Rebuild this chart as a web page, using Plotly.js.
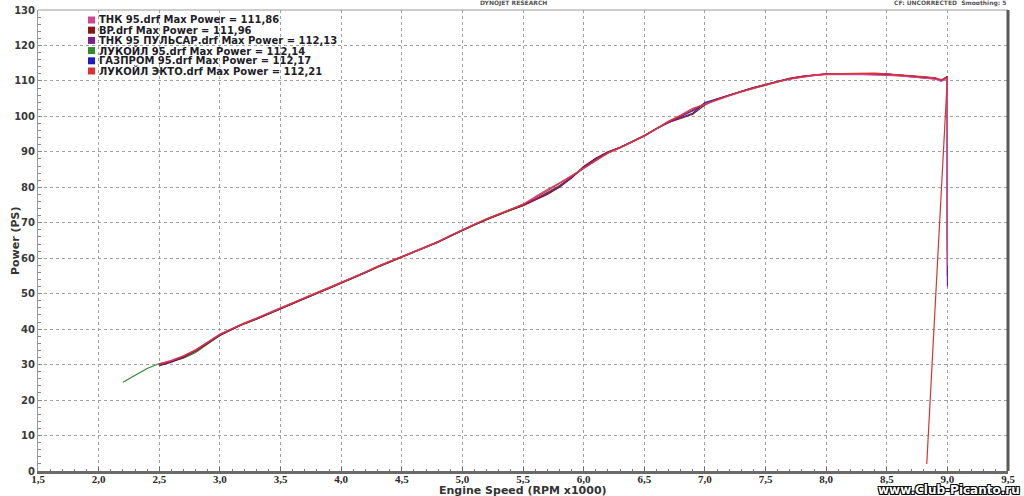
<!DOCTYPE html>
<html>
<head>
<meta charset="utf-8">
<script src="https://cdn.plot.ly/plotly-3.0.1.min.js"></script>
<style>html,body{margin:0;padding:0;background:#fff;}#chart{width:1024px;height:496px;}</style>
</head>
<body>
<div id="chart"></div>
<script>
// Engine speed (RPM x1000) – shared sample points
const rpm = [2.2,2.3,2.4,2.5,2.6,2.7,2.8,2.9,3.0,3.1,
  3.2,3.3,3.4,3.5,3.6,3.7,3.8,3.9,4.0,4.1,
  4.2,4.3,4.4,4.5,4.6,4.7,4.8,4.9,5.0,5.1,
  5.2,5.3,5.4,5.5,5.6,5.7,5.8,5.9,6.0,6.1,
  6.2,6.3,6.4,6.5,6.6,6.7,6.8,6.9,7.0,7.1,
  7.2,7.3,7.4,7.5,7.6,7.7,7.8,7.9,8.0,8.1,
  8.2,8.3,8.4,8.5,8.6,8.7,8.8,8.9,8.95,9.0];

// Power (PS) per run
const thk95 = [null,null,null,30.2,31.2,32.5,34.2,36.4,38.6,40.2,
  41.7,43.0,44.5,46.0,47.4,48.8,50.3,51.7,53.1,54.6,
  56.1,57.7,59.1,60.4,61.7,63.1,64.7,66.4,68.1,69.6,
  71.1,72.5,73.8,75.2,77.3,79.4,81.2,83.3,85.2,87.4,
  89.6,91.1,92.7,94.4,96.4,98.6,100.4,102.3,103.4,104.7,
  105.8,106.9,107.9,108.8,109.7,110.5,111.1,111.5,111.8,111.86,
  111.8,111.8,111.7,111.6,111.4,111.1,110.8,110.5,109.9,110.8];
const bp = [null,null,null,29.8,30.8,32.1,33.8,36.0,38.3,39.9,
  41.5,42.8,44.3,45.8,47.2,48.6,50.1,51.5,52.9,54.4,
  55.9,57.5,58.9,60.2,61.5,62.9,64.5,66.2,67.9,69.4,
  70.9,72.3,73.6,74.8,76.3,78.0,80.0,82.7,85.9,88.2,
  90.0,91.3,92.9,94.6,96.6,98.3,99.4,100.6,103.2,104.9,
  106.0,107.1,108.1,109.0,109.9,110.7,111.3,111.7,111.9,111.96,
  111.9,111.9,111.9,111.7,111.5,111.2,110.9,110.6,110.0,111.1];
const thkPulsar = [null,null,null,30.0,31.0,32.3,34.0,36.2,38.4,40.0,
  41.6,42.9,44.4,45.9,47.3,48.7,50.2,51.6,53.0,54.5,
  56.0,57.6,59.0,60.3,61.6,63.0,64.6,66.3,68.0,69.5,
  71.0,72.4,73.7,75.0,76.6,78.4,80.3,82.9,85.6,88.0,
  89.9,91.3,92.8,94.5,96.5,98.2,99.9,101.7,103.7,104.9,
  106.0,107.1,108.1,109.0,109.9,110.7,111.3,111.7,112.0,112.1,
  112.13,112.1,112.0,111.9,111.7,111.4,111.1,110.8,110.2,111.2];
const lukoil95 = [25.0,26.9,28.9,30.3,30.9,31.8,33.4,35.8,38.2,39.9,
  41.5,42.8,44.3,45.8,47.2,48.6,50.1,51.5,52.9,54.4,
  55.9,57.5,58.9,60.2,61.5,62.9,64.5,66.2,67.9,69.4,
  70.9,72.3,73.6,74.9,76.6,78.5,80.5,82.8,85.4,87.7,
  89.7,91.2,92.8,94.5,96.5,98.5,100.0,101.5,103.5,104.8,
  105.9,107.0,108.0,108.9,109.8,110.6,111.2,111.6,111.9,112.0,
  112.1,112.14,112.1,111.9,111.7,111.4,111.1,110.8,110.1,111.0];
const gazprom95 = [null,null,null,29.7,30.7,32.0,33.9,36.1,38.3,40.0,
  41.6,42.9,44.4,45.9,47.3,48.7,50.2,51.6,53.0,54.5,
  56.0,57.6,59.0,60.3,61.6,63.0,64.6,66.3,68.0,69.5,
  71.0,72.4,73.7,74.9,76.5,78.2,80.1,82.6,85.7,88.1,
  89.9,91.2,92.8,94.5,96.5,98.3,99.6,100.9,103.9,105.0,
  106.0,107.0,108.0,108.9,109.8,110.6,111.2,111.6,111.9,112.0,
  112.1,112.17,112.1,111.9,111.7,111.4,111.1,110.8,110.1,111.3];
const lukoilEkto = [null,null,null,30.1,31.1,32.4,34.1,36.3,38.5,40.1,
  41.7,43.0,44.5,46.0,47.4,48.8,50.3,51.7,53.1,54.6,
  56.1,57.7,59.1,60.4,61.7,63.1,64.7,66.4,68.1,69.6,
  71.1,72.5,73.8,75.1,77.0,79.0,80.9,83.1,85.3,87.6,
  89.7,91.2,92.8,94.5,96.6,98.6,100.2,102.0,103.5,104.8,
  105.9,107.0,108.0,108.9,109.8,110.6,111.2,111.7,112.0,112.1,
  112.2,112.21,112.2,112.0,111.8,111.5,111.2,110.9,110.3,111.0];

// End of each run (throttle release)
const tailRpm = [9.0, 9.0, 9.0, 9.0, 9.0, 8.83];
const tailPower = [58, 62, 52, 65, 55, 2];

const runNames = ["ТНК 95.drf","BP.drf","ТНК 95 ПУЛЬСАР.drf","ЛУКОЙЛ 95.drf","ГАЗПРОМ 95.drf","ЛУКОЙЛ ЭКТО.drf"];
const maxPower = ["111,86","111,96","112,13","112,14","112,17","112,21"];
const runColors = ["#d2468c","#8b1414","#7d1f8c","#2e8b2e","#1c1ccc","#dc3232"];
const runData = [thk95, bp, thkPulsar, lukoil95, gazprom95, lukoilEkto];

const drawOrder = [3,4,1,2,0,5];
const traces = drawOrder.map(i => ({
  type: 'scatter', mode: 'lines',
  x: rpm.concat([tailRpm[i]]),
  y: runData[i].concat([tailPower[i]]),
  line: {color: runColors[i], width: 1.2},
  connectgaps: false,
  showlegend: false,
  hoverinfo: 'skip'
}));

const pad = {l: 38, r: 16, t: 10, b: 25};
const plotH = 496 - pad.t - pad.b;
const annotations = [];
const shapes = [];
runNames.forEach((n, i) => {
  const py = 20 + 10.2 * i;        // pixel row of legend entry
  const yp = 1 - (py - pad.t) / plotH;
  annotations.push({
    xref: 'paper', yref: 'paper', x: (97 - pad.l) / (1024 - pad.l - pad.r), y: yp,
    xanchor: 'left', yanchor: 'middle', showarrow: false,
    text: '<b>' + n + ' Max Power = ' + maxPower[i] + '</b>',
    font: {family: 'DejaVu Sans', size: 10, color: '#1e1e2a'}
  });
  shapes.push({
    type: 'rect', xref: 'paper', yref: 'paper',
    xsizemode: 'pixel', ysizemode: 'pixel', xanchor: 0, yanchor: 1,
    x0: 88 - pad.l, x1: 95 - pad.l, y0: pad.t - (py + 3.5), y1: pad.t - (py - 3.5),
    fillcolor: runColors[i], line: {width: 0}
  });
});

annotations.push(
  {xref:'paper', yref:'paper', x:0.5, y:0, yanchor:'top', yshift:-11, showarrow:false,
   text:'<b>Engine Speed (RPM x1000)</b>', font:{family:'DejaVu Sans', size:11, color:'#333'}},
  {xref:'paper', yref:'paper', x:0, y:0.5, xshift:-31, textangle:-90, showarrow:false,
   text:'<b>Power (PS)</b>', font:{family:'DejaVu Sans', size:11, color:'#333'}},
  {xref:'paper', yref:'paper', x:0.49, y:1, yanchor:'bottom', yshift:1, showarrow:false,
   text:'<b>DYNOJET RESEARCH</b>', font:{family:'DejaVu Sans', size:6, color:'#555'}},
  {xref:'paper', yref:'paper', x:1, y:1, xanchor:'right', yanchor:'bottom', yshift:1, xshift:0, showarrow:false,
   text:'<b>CF: UNCORRECTED  Smoothing: 5</b>', font:{family:'DejaVu Sans', size:6, color:'#555'}},
  {xref:'paper', yref:'paper', x:1, y:0, xanchor:'right', yanchor:'top', xshift:14, yshift:-10, showarrow:false,
   text:'<b>www.Club-Picanto.ru</b>',
   font:{family:'DejaVu Sans', size:12, color:'#ffffff',
         shadow:'1px 1px 0 #000, -1px -1px 0 #000, 1px -1px 0 #000, -1px 1px 0 #000'}}
);

shapes.push(
  {type:'line', xref:'paper', yref:'paper', x0:0, x1:1, y0:1, y1:1, line:{color:'#9a9a9a', width:1}},
  {type:'line', xref:'paper', yref:'paper', x0:1, x1:1, y0:0, y1:1, line:{color:'#5a5a5a', width:3}}
);

const layout = {
  width: 1024, height: 496,
  margin: pad,
  paper_bgcolor: '#ffffff', plot_bgcolor: '#ffffff',
  separators: ', ',
  showlegend: false,
  xaxis: {
    range: [1.5, 9.5], dtick: 0.5, tick0: 1.5, tickformat: '.1f',
    tickprefix: '<b>', ticksuffix: '</b>', ticklabelstandoff: -4,
    showgrid: true, gridcolor: '#a0a0a0', griddash: 'dot', gridwidth: 1,
    zeroline: false, showline: true, linecolor: '#6a6a6a', linewidth: 3,
    ticks: 'inside', ticklen: 4, tickcolor: '#6a6a6a',
    minor: {dtick: 0.1, ticks: 'inside', ticklen: 2, tickcolor: '#777', showgrid: false},
    tickfont: {family: 'Liberation Serif', size: 11, color: '#2a2a2a'},
    fixedrange: true
  },
  yaxis: {
    range: [0, 130], dtick: 10,
    tickprefix: '<b>', ticksuffix: '</b>',
    showgrid: true, gridcolor: '#a0a0a0', griddash: 'dot', gridwidth: 1,
    zeroline: false, showline: true, linecolor: '#9a9a9a', linewidth: 1,
    ticks: 'inside', ticklen: 4, tickcolor: '#888',
    minor: {dtick: 2, ticks: 'inside', ticklen: 3, tickcolor: '#888', showgrid: false},
    tickfont: {family: 'DejaVu Sans', size: 10, color: '#3a3a3a'},
    fixedrange: true
  },
  annotations: annotations,
  shapes: shapes
};

Plotly.newPlot('chart', traces, layout, {staticPlot: true, displayModeBar: false});
</script>
</body>
</html>
